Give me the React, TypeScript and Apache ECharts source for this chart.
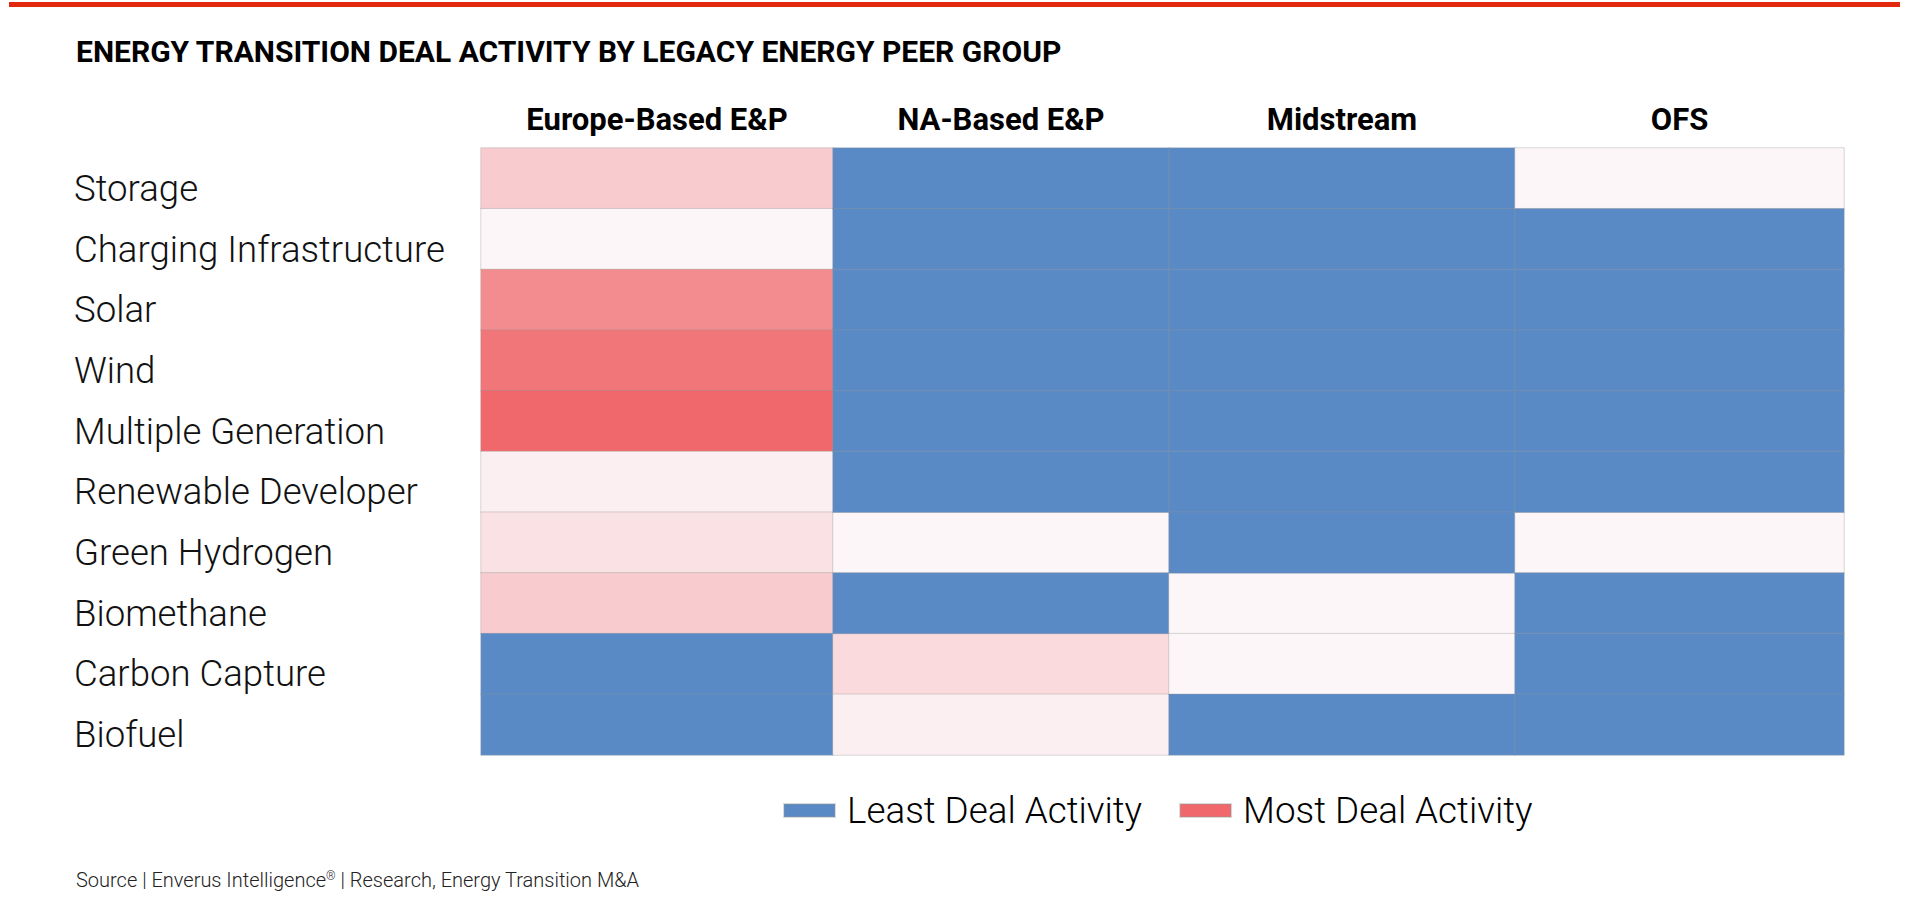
import React, { useEffect, useRef } from "react";
import * as echarts from "echarts";

// ---- Data ----
const peerGroups = ["Europe-Based E&P", "NA-Based E&P", "Midstream", "OFS"];
const segments = [
  "Storage",
  "Charging Infrastructure",
  "Solar",
  "Wind",
  "Multiple Generation",
  "Renewable Developer",
  "Green Hydrogen",
  "Biomethane",
  "Carbon Capture",
  "Biofuel",
];
// relative deal activity score per segment (0 = least deal activity)
const europeBased = [7, 1, 16, 19, 21, 2, 4, 7, 0, 0];
const naBased = [0, 0, 0, 0, 0, 0, 1, 0, 5, 2];
const midstream = [0, 0, 0, 0, 0, 0, 0, 1, 1, 0];
const ofs = [1, 0, 0, 0, 0, 0, 1, 0, 0, 0];
const legendNames = ["Least Deal Activity", "Most Deal Activity"];
const titleText = "ENERGY TRANSITION DEAL ACTIVITY BY LEGACY ENERGY PEER GROUP";
const sourceText =
  "Source | Enverus Intelligence{sup|®} | Research, Energy Transition M&A";

// ---- Layout / style ----
const GRID_LEFT = 481;
const GRID_TOP = 148;
const GRID_HEIGHT = 607;
const COL_WIDTHS = [352, 336, 346, 329];

const BLUE = "#5A8AC6";
const RED = "#F0686B";
const LIGHT = "#FCF6F8";

export default function App() {
  const ref = useRef<HTMLDivElement>(null);

  useEffect(() => {
    if (!ref.current) return;
    const chart = echarts.init(ref.current, null, { renderer: "svg" });
    const columns = [europeBased, naBased, midstream, ofs];
    const maxV = Math.max(...columns.flat());

    const border = {
      borderColor: "rgba(150,150,150,0.35)",
      borderWidth: 1,
    };

    const grids: any[] = [];
    const xAxes: any[] = [];
    const yAxes: any[] = [];
    const series: any[] = [];
    const activeIdx: number[] = [];
    const leastIdx: number[] = [];
    let left = GRID_LEFT;

    columns.forEach((col, i) => {
      grids.push({ left, top: GRID_TOP, width: COL_WIDTHS[i], height: GRID_HEIGHT });
      left += COL_WIDTHS[i];
      xAxes.push({
        type: "category",
        gridIndex: i,
        position: "top",
        data: [peerGroups[i]],
        axisLine: { show: false },
        axisTick: { show: false },
        splitLine: { show: false },
        axisLabel: {
          interval: 0,
          margin: 29,
          verticalAlign: "middle",
          fontFamily: "Roboto",
          fontWeight: "bold",
          fontSize: 31,
          lineHeight: 31,
          color: "#000000",
        },
      });
      yAxes.push({
        type: "category",
        gridIndex: i,
        inverse: true,
        data: segments,
        axisLine: { show: false },
        axisTick: { show: false },
        splitLine: { show: false },
        axisLabel: {
          show: i === 0,
          interval: 0,
          align: "left",
          margin: 407,
          verticalAlign: "top",
          lineHeight: 20,
          fontFamily: "Roboto",
          fontWeight: 300,
          fontSize: 36.6,
          color: "#111111",
        },
      });
      const active: number[][] = [];
      const least: number[][] = [];
      col.forEach((v, y) => {
        if (v > 0) active.push([0, y, v]);
        else least.push([0, y, v]);
      });
      activeIdx.push(series.length);
      series.push({
        name: legendNames[1],
        type: "heatmap",
        xAxisIndex: i,
        yAxisIndex: i,
        data: active,
        itemStyle: border,
        emphasis: { disabled: true },
      });
      leastIdx.push(series.length);
      series.push({
        name: legendNames[0],
        type: "heatmap",
        xAxisIndex: i,
        yAxisIndex: i,
        data: least,
        itemStyle: border,
        emphasis: { disabled: true },
      });
    });

    chart.setOption({
      animation: false,
      backgroundColor: "#ffffff",
      textStyle: { fontFamily: "Roboto" },
      title: {
        text: titleText,
        left: 76,
        top: 36,
        padding: 0,
        textStyle: {
          fontFamily: "Roboto",
          fontWeight: "bold",
          fontSize: 30,
          lineHeight: 30,
          color: "#000000",
        },
      },
      grid: grids,
      xAxis: xAxes,
      yAxis: yAxes,
      visualMap: [
        {
          type: "continuous",
          seriesIndex: activeIdx,
          dimension: 2,
          min: 1,
          max: maxV,
          show: false,
          inRange: { color: [LIGHT, RED] },
        },
        {
          type: "piecewise",
          seriesIndex: leastIdx,
          dimension: 2,
          show: false,
          pieces: [{ value: 0, color: BLUE }],
        },
      ],
      legend: {
        left: 783,
        top: 792,
        padding: 0,
        icon: "rect",
        itemWidth: 51,
        itemHeight: 13,
        itemGap: 37,
        selectedMode: false,
        data: [
          { name: legendNames[0], itemStyle: { color: BLUE } },
          { name: legendNames[1], itemStyle: { color: RED } },
        ],
        textStyle: {
          fontFamily: "Roboto",
          fontWeight: 300,
          fontSize: 36.8,
          lineHeight: 36,
          color: "#000000",
          padding: [0, 0, 0, 7],
        },
      },
      series,
      graphic: [
        {
          type: "rect",
          shape: { x: 9, y: 2, width: 1891, height: 5 },
          style: { fill: "#E2290D" },
          silent: true,
        },
        {
          type: "text",
          left: 76,
          top: 870,
          style: {
            text: sourceText,
            fontFamily: "Roboto",
            fontWeight: 300,
            fontSize: 20,
            fill: "#222222",
            rich: {
              sup: {
                fontFamily: "Roboto",
                fontWeight: 300,
                fontSize: 12,
                verticalAlign: "top",
                fill: "#222222",
              },
            },
          },
          silent: true,
        },
      ],
    });

    return () => chart.dispose();
  }, []);

  return (
    <div
      ref={ref}
      style={{ position: "absolute", left: 0, top: 0, width: 1920, height: 921 }}
    />
  );
}
